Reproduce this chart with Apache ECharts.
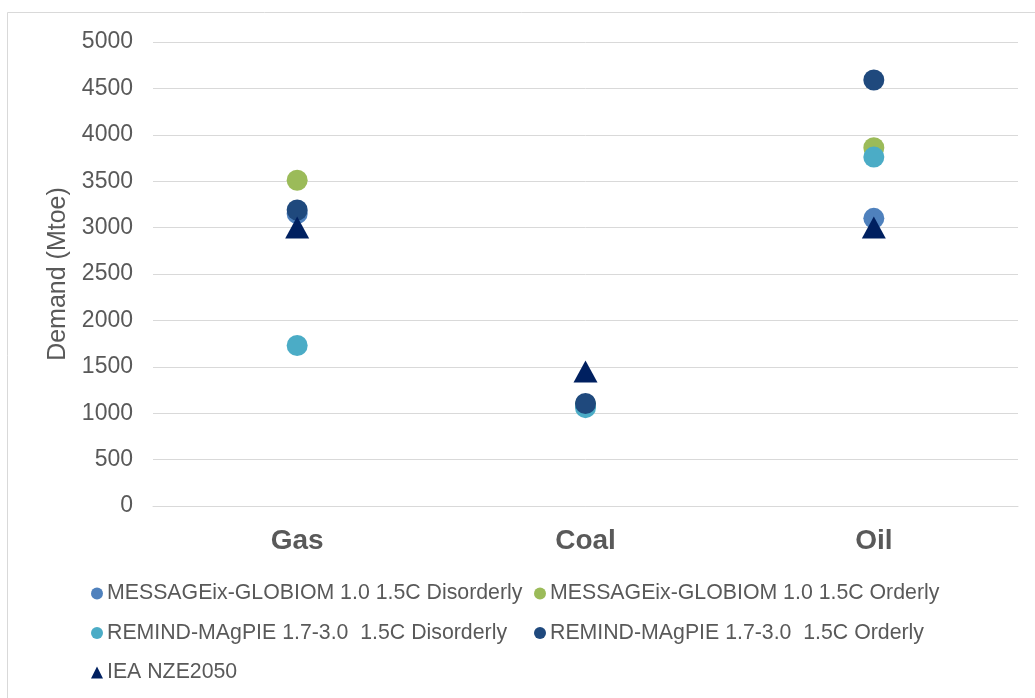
<!DOCTYPE html>
<html>
<head>
<meta charset="utf-8">
<script src="https://cdn.jsdelivr.net/npm/echarts@6/dist/echarts.min.js"></script>
<style>
html,body{margin:0;padding:0;background:#fff;}
#chart{width:1035px;height:698px;}
</style>
</head>
<body>
<div id="chart"></div>
<script>
// Fuel categories and 2050 primary demand by scenario (Mtoe)
const categories = ['Gas', 'Coal', 'Oil'];
const messageDisorderly = [3150, 1090, 3100];
const messageOrderly = [3510, 1095, 3860];
const remindDisorderly = [1730, 1060, 3760];
const remindOrderly = [3190, 1105, 4590];
const ieaNze = [3000, 1450, 3000];
const yTicks = [0, 500, 1000, 1500, 2000, 2500, 3000, 3500, 4000, 4500, 5000];

const names = [
  'MESSAGEix-GLOBIOM 1.0 1.5C Disorderly',
  'MESSAGEix-GLOBIOM 1.0 1.5C Orderly',
  'REMIND-MAgPIE 1.7-3.0  1.5C Disorderly',
  'REMIND-MAgPIE 1.7-3.0  1.5C Orderly',
  'IEA NZE2050'
];
const colors = ['#4F81BD', '#9BBB59', '#4BACC6', '#1F497D', '#002060'];
const values = [messageDisorderly, messageOrderly, remindDisorderly, remindOrderly, ieaNze];

const textColor = '#595959';
const font = '"Liberation Sans", Arial, sans-serif';

const series = names.map((n, i) => ({
  name: n,
  type: 'scatter',
  data: values[i],
  symbol: i === 4 ? 'triangle' : 'circle',
  symbolSize: i === 4 ? [24, 22] : 21,
  itemStyle: { color: colors[i], opacity: 1 },
  z: 2 + i
}));

const legendBase = {
  orient: 'vertical',
  itemGap: 18.5,
  itemWidth: 12,
  itemHeight: 12,
  padding: 0,
  icon: 'circle',
  textStyle: { color: textColor, fontSize: 21.3, fontFamily: font, padding: [0, 0, 0, -1] },
  selectedMode: false
};

const chart = echarts.init(document.getElementById('chart'));
chart.setOption({
  backgroundColor: '#fff',
  animation: false,
  graphic: [{
    type: 'rect',
    shape: { x: 7.5, y: 12.5, width: 1040, height: 700 },
    style: { fill: 'none', stroke: '#d9d9d9', lineWidth: 1 },
    silent: true
  }],
  grid: { left: 153, right: 17, top: 42, bottom: 192 },
  xAxis: {
    type: 'category',
    data: categories,
    axisLine: { lineStyle: { color: '#d9d9d9', width: 1 } },
    axisTick: { show: false },
    axisLabel: { color: textColor, fontSize: 28, fontWeight: 'bold', fontFamily: font, margin: 21 }
  },
  yAxis: {
    type: 'value',
    min: yTicks[0],
    max: yTicks[yTicks.length - 1],
    interval: 500,
    name: 'Demand (Mtoe)',
    nameLocation: 'middle',
    nameGap: 82,
    nameTextStyle: { color: textColor, fontSize: 25, fontFamily: font },
    axisLine: { show: false },
    axisTick: { show: false },
    axisLabel: {
      color: textColor, fontSize: 23, fontFamily: font, margin: 20,
      padding: [3, 0, 0, 0],
      formatter: v => String(v)
    },
    splitLine: { lineStyle: { color: '#d9d9d9', width: 1 } }
  },
  legend: [
    Object.assign({}, legendBase, {
      left: 91, top: 583,
      data: [
        { name: names[0], icon: 'circle' },
        { name: names[2], icon: 'circle' },
        { name: names[4], icon: 'triangle' }
      ]
    }),
    Object.assign({}, legendBase, {
      left: 534, top: 583,
      data: [
        { name: names[1], icon: 'circle' },
        { name: names[3], icon: 'circle' }
      ]
    })
  ],
  series: series
});
</script>
</body>
</html>
